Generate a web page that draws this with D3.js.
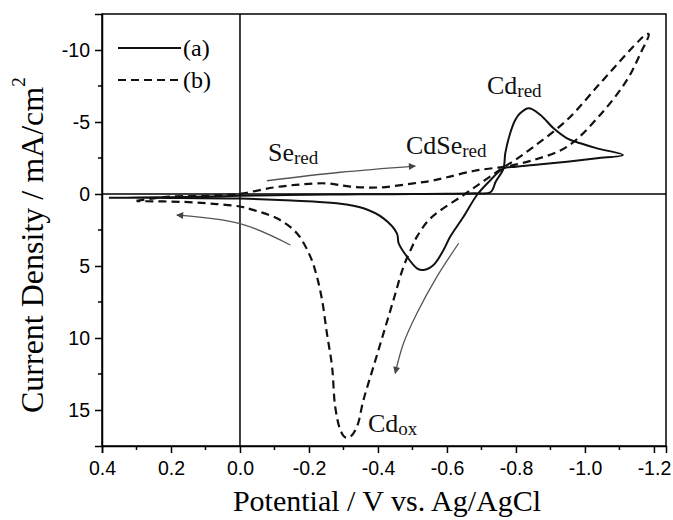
<!DOCTYPE html>
<html>
<head>
<meta charset="utf-8">
<script src="https://cdn.jsdelivr.net/npm/d3@7"></script>
<style>
body { margin: 0; background: #fff; }
svg { display: block; }
</style>
</head>
<body>
<div id="chart"></div>
<script>
// (a) solid: potential (V vs Ag/AgCl) and current density (mA/cm2), one closed scan
const aPotential = [0.38, 0.30, 0.20, 0.10, 0.00, -0.10, -0.20, -0.30, -0.40, -0.50, -0.60, -0.68, -0.726, -0.742, -0.764, -0.769, -0.783, -0.798, -0.812, -0.837, -0.871, -0.909, -0.948, -0.987, -1.035, -1.11,
  -1.035, -0.948, -0.851, -0.80, -0.764, -0.722, -0.687, -0.648, -0.61, -0.59, -0.561, -0.532, -0.513, -0.484, -0.46, -0.455, -0.416, -0.358, -0.281, -0.15, 0.0, 0.2, 0.38];
const aCurrent = [0.26, 0.25, 0.22, 0.18, 0.12, 0.08, 0.05, 0.03, 0.02, 0.0, -0.02, -0.05, -0.12, -0.88, -1.78, -2.82, -4.2, -5.14, -5.6, -5.95, -5.49, -4.56, -3.87, -3.52, -3.17, -2.71,
  -2.48, -2.24, -2.01, -1.9, -1.78, -0.86, 0.07, 1.58, 2.94, 3.89, 4.93, 5.28, 5.16, 4.35, 3.42, 2.73, 1.69, 0.99, 0.65, 0.45, 0.32, 0.27, 0.26];

// (b) dashed
const bPotential = [0.30, 0.25, 0.20, 0.10, 0.03, -0.01, -0.097, -0.175, -0.252, -0.32, -0.407, -0.503, -0.552, -0.60, -0.677, -0.735, -0.764, -0.851, -0.948, -1.044, -1.122, -1.161, -1.185,
  -1.175, -1.161, -1.122, -1.044, -0.948, -0.851, -0.80, -0.764, -0.71, -0.648, -0.552, -0.513, -0.499, -0.474, -0.445, -0.416, -0.387, -0.358, -0.339, -0.32, -0.305, -0.291, -0.276, -0.267, -0.252, -0.238, -0.223, -0.204, -0.165, -0.107, -0.03, 0.0, 0.067, 0.163, 0.30];
const bCurrent = [0.48, 0.30, 0.18, 0.12, 0.05, -0.05, -0.45, -0.66, -0.74, -0.51, -0.46, -0.74, -0.9, -1.16, -1.6, -1.8, -1.88, -2.36, -3.28, -5.49, -7.92, -9.77, -11.1,
  -11.05, -10.75, -9.77, -7.69, -5.14, -3.28, -2.4, -1.85, -0.96, 0.07, 1.7, 2.96, 3.66, 5.05, 7.36, 9.68, 11.99, 14.3, 16.16, 16.85, 16.9, 16.39, 14.77, 11.99, 9.68, 7.36, 5.74, 4.35, 2.73, 1.69, 1.05, 0.87, 0.7, 0.55, 0.5];

// scan direction arrows
const seArrowV = [-0.078, -0.291, -0.508];
const seArrowI = [-0.92, -1.51, -1.94];
const backArrowV = [-0.146, 0.0, 0.183];
const backArrowI = [3.54, 2.05, 1.46];
const downArrowV = [-0.634, -0.571, -0.513, -0.474, -0.45];
const downArrowI = [3.42, 5.74, 8.28, 10.37, 12.45];

// ticks
const xMajor = [0.4, 0.2, 0.0, -0.2, -0.4, -0.6, -0.8, -1.0, -1.2];
const xMinor = [0.3, 0.1, -0.1, -0.3, -0.5, -0.7, -0.9, -1.1];
const yMajor = [-10, -5, 0, 5, 10, 15];
const yMinor = [-7.5, -2.5, 2.5, 7.5, 12.5];

const outerwidth = 673, outerheight = 520;
const margin = {top: 14, right: 7, bottom: 74, left: 102};
const width = outerwidth - margin.left - margin.right;
const height = outerheight - margin.top - margin.bottom;

const svg = d3.select("#chart").append("svg")
  .attr("width", outerwidth)
  .attr("height", outerheight);

const defs = svg.append("defs");
defs.append("marker")
  .attr("id", "head")
  .attr("viewBox", "0 0 10 10")
  .attr("refX", 9).attr("refY", 5)
  .attr("markerWidth", 9).attr("markerHeight", 7)
  .attr("markerUnits", "userSpaceOnUse")
  .attr("orient", "auto")
  .append("path").attr("d", "M0,0L10,5L0,10Z").attr("fill", "#444");

const g = svg.append("g").attr("transform", "translate(" + margin.left + "," + margin.top + ")");

const xscale = d3.scaleLinear().domain([0.4, -1.235]).range([0, width]);
const yscale = d3.scaleLinear().domain([-12.5, 17.5]).range([0, height]);

const tickFont = "'Liberation Sans', Arial, sans-serif";
const serif = "'Liberation Serif', 'Times New Roman', serif";

// zero lines
g.append("line").attr("x1", xscale(0)).attr("x2", xscale(0)).attr("y1", 0).attr("y2", height)
  .attr("stroke", "#000").attr("stroke-width", 1.5);
g.append("line").attr("x1", 0).attr("x2", width).attr("y1", yscale(0)).attr("y2", yscale(0))
  .attr("stroke", "#000").attr("stroke-width", 1.5);

// frame
g.append("rect").attr("width", width).attr("height", height)
  .attr("fill", "none").attr("stroke", "#000").attr("stroke-width", 1.5);

// axes
const xaxis = g.append("g").attr("transform", "translate(0," + height + ")")
  .call(d3.axisBottom(xscale).tickValues(xMajor).tickSize(7).tickPadding(8)
    .tickFormat(d => d.toFixed(1)));
xaxis.append("g").selectAll("line").data(xMinor).join("line")
  .attr("x1", d => xscale(d)).attr("x2", d => xscale(d)).attr("y1", 0).attr("y2", 4)
  .attr("stroke", "#000").attr("stroke-width", 1.5);

const yaxis = g.append("g")
  .call(d3.axisLeft(yscale).tickValues(yMajor).tickSize(7).tickPadding(5)
    .tickFormat(d => String(d)));
yaxis.append("g").selectAll("line").data(yMinor).join("line")
  .attr("y1", d => yscale(d)).attr("y2", d => yscale(d)).attr("x1", 0).attr("x2", -4)
  .attr("stroke", "#000").attr("stroke-width", 1.5);

[xaxis, yaxis].forEach(a => {
  a.select(".domain").attr("stroke-width", 1.5);
  a.selectAll(".tick line").attr("stroke-width", 1.5);
  a.selectAll("text").attr("font-family", tickFont).attr("font-size", 19.5).attr("fill", "#000");
});

// curves
const line = d3.line()
  .x(d => xscale(d[0]))
  .y(d => yscale(d[1]))
  .curve(d3.curveCatmullRom.alpha(0.5));

g.append("path").datum(d3.zip(aPotential, aCurrent))
  .attr("fill", "none").attr("stroke", "#111").attr("stroke-width", 2)
  .attr("d", line);

g.append("path").datum(d3.zip(bPotential, bCurrent))
  .attr("fill", "none").attr("stroke", "#111").attr("stroke-width", 2.2)
  .attr("stroke-dasharray", "8,5")
  .attr("d", line);

// arrows
[[seArrowV, seArrowI], [backArrowV, backArrowI], [downArrowV, downArrowI]].forEach(([v, i]) => {
  g.append("path").datum(d3.zip(v, i))
    .attr("fill", "none").attr("stroke", "#555").attr("stroke-width", 1.3)
    .attr("marker-end", "url(#head)")
    .attr("d", line);
});

// peak labels
function label(text, sub, v, i) {
  const t = g.append("text")
    .attr("x", xscale(v)).attr("y", yscale(i))
    .attr("font-family", serif).attr("font-size", 26).attr("fill", "#111")
    .text(text);
  t.append("tspan").attr("font-size", 19).attr("dy", 3).text(sub);
}
label("Cd", "red", -0.716, -6.94);
label("CdSe", "red", -0.481, -2.78);
label("Se", "red", -0.081, -2.29);
label("Cd", "ox", -0.371, 16.53);

// legend
const legend = g.append("g");
legend.append("line").attr("x1", 16).attr("x2", 79).attr("y1", 34).attr("y2", 34)
  .attr("stroke", "#111").attr("stroke-width", 2);
legend.append("line").attr("x1", 16).attr("x2", 77).attr("y1", 66).attr("y2", 66)
  .attr("stroke", "#111").attr("stroke-width", 2.2).attr("stroke-dasharray", "8,5");
legend.append("text").attr("x", 81).attr("y", 42).text("(a)")
  .attr("font-family", serif).attr("font-size", 24);
legend.append("text").attr("x", 81).attr("y", 74).text("(b)")
  .attr("font-family", serif).attr("font-size", 24);

// axis titles
svg.append("text")
  .attr("x", margin.left + xscale(-0.4) + 9).attr("y", 511)
  .attr("text-anchor", "middle")
  .attr("font-family", serif).attr("font-size", 30)
  .text("Potential / V vs. Ag/AgCl");

const ytitle = svg.append("text")
  .attr("transform", "translate(43,413) rotate(-90)")
  .attr("text-anchor", "start")
  .attr("font-family", serif).attr("font-size", 32)
  .text("Current Density / mA/cm");
ytitle.append("tspan").attr("font-size", 19).attr("dy", -18).text("2");
</script>
</body>
</html>
